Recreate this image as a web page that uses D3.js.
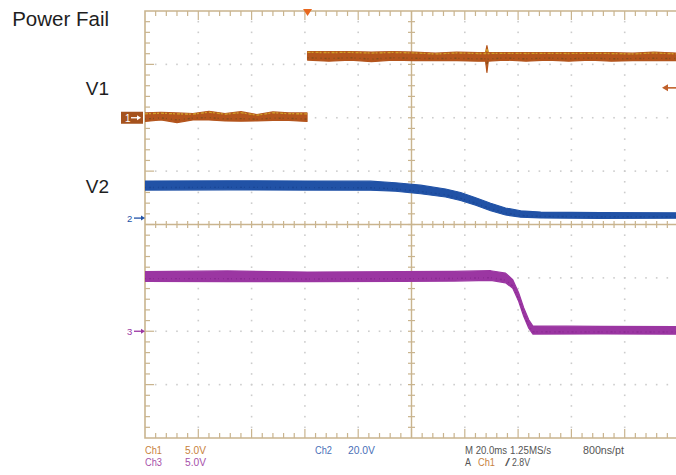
<!DOCTYPE html>
<html>
<head>
<meta charset="utf-8">
<script src="https://cdn.jsdelivr.net/npm/d3@7"></script>
<style>
  html, body { margin: 0; padding: 0; background: #ffffff; }
  svg { display: block; }
</style>
</head>
<body>
<script>
// ---- Acquisition settings -------------------------------------------------
const timeDomain = [-61, 139];            // ms across 10 divisions (20 ms/div), trigger at 0
const voltsPerDiv = { ch1: 5, ch2: 20, ch3: 5 };
const groundDiv   = { ch1: 2.0, ch2: 0.12, ch3: -2.0 };   // ground marker, divisions from centre
const triggerLevel = 2.8;                 // V on Ch1

// ---- Ch1: power-fail signal (V) --------------------------------------------
const ch1Time   = [-61, -55, -49, -43, -37, -31, -25, -19, -13, -7, -0.2,
                   0, 8, 16, 24, 32, 40, 48, 56, 64, 66.8, 67.3, 67.8, 74, 82, 90, 98, 106, 114, 122, 130, 139];
const ch1Level  = [0.05, 0.15, 0.0, 0.1, 0.2, 0.05, 0.12, 0.0, 0.15, 0.1, 0.05,
                   5.8, 5.75, 5.8, 5.7, 5.8, 5.75, 5.7, 5.75, 5.7, 5.7, 5.5, 5.7, 5.75, 5.7, 5.75, 5.7, 5.75, 5.7, 5.7, 5.75, 5.7];
const ch1Spread = [0.4, 0.35, 0.45, 0.3, 0.4, 0.35, 0.45, 0.3, 0.4, 0.35, 0.4,
                   0.4, 0.45, 0.4, 0.45, 0.4, 0.4, 0.35, 0.4, 0.4, 0.4, 1.25, 0.4, 0.35, 0.4, 0.35, 0.4, 0.35, 0.4, 0.35, 0.4, 0.35];

// ---- Ch2: V1 rail (V) ------------------------------------------------------
const ch2Time   = [-61, -30, 0, 23.6, 33, 42.4, 51.8, 57.4, 63.1, 68.7, 74.3, 80, 87.5, 110, 139];
const ch2Level  = [12.2, 12.3, 12.2, 12.15, 11.65, 10.72, 9.4, 8.09, 6.22, 4.16, 2.47, 1.54, 1.16, 0.97, 0.97];
const ch2Spread = [1.7, 1.7, 1.7, 1.7, 1.6, 1.6, 1.5, 1.5, 1.4, 1.4, 1.3, 1.2, 1.1, 1.1, 1.0];

// ---- Ch3: V2 rail (V) ------------------------------------------------------
const ch3Time   = [-61, -30, 0, 34.9, 55, 68.7, 74.3, 77, 79.2, 81.1, 83, 84.5, 110, 139];
const ch3Level  = [5.13, 5.15, 5.1, 5.13, 5.15, 5.22, 4.99, 4.43, 3.21, 1.80, 0.68, 0.12, 0.1, 0.08];
const ch3Spread = [0.45, 0.5, 0.45, 0.45, 0.45, 0.45, 0.45, 0.4, 0.4, 0.4, 0.4, 0.38, 0.35, 0.35];

// ---- Labels ----------------------------------------------------------------
const sideLabels = ["Power Fail", "V1", "V2"];
const readoutRow1 = ["Ch1", "5.0V", "Ch2", "20.0V", "M 20.0ms", "1.25MS/s", "800ns/pt"];
const readoutRow2 = ["Ch3", "5.0V", "A", "Ch1", "/", "2.8V"];

// ---- Layout ----------------------------------------------------------------
const W = 676, H = 475;
const plot = { left: 145, top: 11, right: 678, bottom: 438 };
const colors = {
  grid: "#c9b48e", dot: "#cccccc",
  ch1: "#b4551d", ch1Hi: "#d8b22a", ch1Lo: "#5f4a1a",
  ch2: "#2152a6", ch2Lo: "#163f8a", ch3: "#9b36a2", ch3Lo: "#7f2388",
  txt1: "#c8823c", txt2: "#4a6fb8", txt3: "#a650aa", txtM: "#555555"
};

const svg = d3.select("body").append("svg").attr("width", W).attr("height", H);

const x = d3.scaleLinear().domain(timeDomain).range([plot.left, plot.right]);
const yDiv = d3.scaleLinear().domain([-4, 4]).range([plot.bottom, plot.top]);
const chY = ch => v => yDiv(groundDiv[ch] + v / voltsPerDiv[ch]);

const divX = (plot.right - plot.left) / 10;
const divY = (plot.bottom - plot.top) / 8;
const cx = plot.left + 5 * divX, cy = plot.top + 4 * divY;

// ---- Graticule -------------------------------------------------------------
const g = svg.append("g");
const clipId = "plotclip";
svg.append("clipPath").attr("id", clipId).append("rect")
  .attr("x", plot.left).attr("y", plot.top - 2)
  .attr("width", plot.right - plot.left).attr("height", plot.bottom - plot.top + 4);

// dotted division lines
const dots = [];
for (let i = 1; i < 10; i++) {
  if (i === 5) continue;
  for (let k = 1; k < 40; k++) dots.push([plot.left + i * divX, plot.top + k * divY / 5]);
}
for (let j = 1; j < 8; j++) {
  if (j === 4) continue;
  for (let k = 1; k < 50; k++) dots.push([plot.left + k * divX / 5, plot.top + j * divY]);
}
g.selectAll("rect.dot").data(dots).join("rect").attr("class", "dot")
  .attr("x", d => d[0] - 0.8).attr("y", d => d[1] - 0.8)
  .attr("width", 1.6).attr("height", 1.6).attr("fill", colors.dot);

// border (left, top, bottom; the right edge falls outside the frame)
g.append("path")
  .attr("d", `M${plot.right},${plot.top} H${plot.left} V${plot.bottom} H${plot.right}`)
  .attr("fill", "none").attr("stroke", colors.grid).attr("stroke-width", 1.6);

// centre cross
g.append("line").attr("x1", plot.left).attr("x2", plot.right).attr("y1", cy).attr("y2", cy)
  .attr("stroke", colors.grid).attr("stroke-width", 1.4);
g.append("line").attr("x1", cx).attr("x2", cx).attr("y1", plot.top).attr("y2", plot.bottom)
  .attr("stroke", colors.grid).attr("stroke-width", 1.4);

const ticks = [];
for (let k = 1; k < 50; k++) {
  const px = plot.left + k * divX / 5, major = k % 5 === 0;
  const len = major ? 9 : 5;
  ticks.push([px, plot.top, px, plot.top + len]);
  ticks.push([px, plot.bottom, px, plot.bottom - len]);
  ticks.push([px, cy - 3.5, px, cy + 3.5]);
}
for (let k = 1; k < 40; k++) {
  const py = plot.top + k * divY / 5, major = k % 5 === 0;
  const len = major ? 9 : 5;
  ticks.push([plot.left, py, plot.left + len, py]);
  ticks.push([cx - 3.5, py, cx + 3.5, py]);
}
g.selectAll("line.tick").data(ticks).join("line").attr("class", "tick")
  .attr("x1", d => d[0]).attr("y1", d => d[1]).attr("x2", d => d[2]).attr("y2", d => d[3])
  .attr("stroke", colors.grid).attr("stroke-width", 1.2);

// ---- Traces ----------------------------------------------------------------
// A trace is drawn as the band of its sampled envelope; a step (two samples
// closer than 0.5 ms with a large jump) starts a new segment.
function trace(ch, time, level, spread, color, shade) {
  const y = chY(ch);
  const pts = time.map((t, i) => ({ t, v: level[i], s: spread[i] }));
  const segs = [[pts[0]]];
  for (let i = 1; i < pts.length; i++) {
    const p = pts[i], q = pts[i - 1];
    if (p.t - q.t < 0.5 && Math.abs(p.v - q.v) > voltsPerDiv[ch] / 2) segs.push([]);
    segs[segs.length - 1].push(p);
  }
  const area = d3.area().x(d => x(d.t)).y0(d => y(d.v - d.s)).y1(d => y(d.v + d.s));
  const grp = svg.append("g").attr("clip-path", `url(#${clipId})`);
  grp.selectAll("path.band").data(segs).join("path").attr("class", "band").attr("d", area)
    .attr("fill", color).attr("stroke", color).attr("stroke-width", 1.2)
    .attr("stroke-linejoin", "round");
  // speckled persistence along the lower part of the band
  const mid = d3.line().x(d => x(d.t)).y(d => y(d.v - 0.45 * d.s));
  grp.selectAll("path.speck").data(segs).join("path").attr("class", "speck").attr("d", mid)
    .attr("fill", "none").attr("stroke", shade).attr("stroke-width", 1.4)
    .attr("stroke-dasharray", "1 3 2 2 1 4").attr("opacity", 0.55);
  return { grp, segs, y };
}

const t3 = trace("ch3", ch3Time, ch3Level, ch3Spread, colors.ch3, colors.ch3Lo);
const t2 = trace("ch2", ch2Time, ch2Level, ch2Spread, colors.ch2, colors.ch2Lo);
const t1 = trace("ch1", ch1Time, ch1Level, ch1Spread, colors.ch1, colors.ch1Lo);

// Ch1 yellow highlights along the upper edge
const edge = off => d3.line().x(d => x(d.t)).y(d => t1.y(d.v + off * d.s));
t1.grp.selectAll("path.hi").data(t1.segs).join("path").attr("class", "hi").attr("d", edge(0.8))
  .attr("fill", "none").attr("stroke", colors.ch1Hi).attr("stroke-width", 1.3)
  .attr("stroke-dasharray", "3 1 2 2").attr("opacity", 0.8);

// ---- Channel markers -------------------------------------------------------
const g1 = chY("ch1")(0), g2 = chY("ch2")(0), g3 = chY("ch3")(0);

svg.append("rect").attr("x", 121).attr("y", g1 - 6).attr("width", 22).attr("height", 12)
  .attr("fill", "#a5521d");
svg.append("text").attr("x", 125).attr("y", g1 + 4).text("1")
  .attr("font-family", "Liberation Sans, Arial, sans-serif").attr("font-size", 10).attr("fill", "#fff");

function arrow(x0, x1, yy, color) {
  svg.append("line").attr("x1", x0).attr("x2", x1 - 3).attr("y1", yy).attr("y2", yy)
    .attr("stroke", color).attr("stroke-width", 1.3);
  svg.append("path").attr("d", `M${x1},${yy} L${x1 - 4},${yy - 2.5} L${x1 - 4},${yy + 2.5} Z`).attr("fill", color);
}
arrow(131, 141, g1, "#ffffff");

svg.append("text").attr("x", 127).attr("y", g2 + 3.5).text("2")
  .attr("font-family", "Liberation Sans, Arial, sans-serif").attr("font-size", 9.5).attr("fill", colors.ch2);
arrow(134, 145, g2, colors.ch2);
svg.append("text").attr("x", 127).attr("y", g3 + 3.5).text("3")
  .attr("font-family", "Liberation Sans, Arial, sans-serif").attr("font-size", 9.5).attr("fill", colors.ch3);
arrow(134, 145, g3, colors.ch3);

// trigger position (top) and trigger level (right)
const tx = x(0);
svg.append("path").attr("d", `M${tx - 4.5},${plot.top - 2} L${tx + 4.5},${plot.top - 2} L${tx},${plot.top + 5} Z`)
  .attr("fill", "#e8681e");
const ty = chY("ch1")(triggerLevel);
svg.append("line").attr("x1", 667).attr("x2", 676).attr("y1", ty).attr("y2", ty)
  .attr("stroke", "#c0602a").attr("stroke-width", 1.6);
svg.append("path").attr("d", `M662,${ty} L668,${ty - 3.5} L668,${ty + 3.5} Z`).attr("fill", "#c0602a");

// ---- Side labels -----------------------------------------------------------
const sideY = [26, 95, 193];
svg.selectAll("text.side").data(sideLabels).join("text").attr("class", "side")
  .attr("x", 109).attr("y", (d, i) => sideY[i]).attr("text-anchor", "end")
  .attr("font-family", "Liberation Sans, Arial, Helvetica, sans-serif")
  .attr("font-size", (d, i) => i === 0 ? 20.5 : 19).attr("fill", "#1e1e1e").text(d => d);

// ---- Readout ---------------------------------------------------------------
const fontR = "Liberation Sans, Arial, sans-serif";
const row1X = [145, 185, 315, 348, 465, 510, 583];
const row1Wd = [17, 21, 17, 27, 42, 41, 41];
const row1C = [colors.txt1, colors.txt1, colors.txt2, colors.txt2, colors.txtM, colors.txtM, colors.txtM];
const row2X = [145, 185, 465, 478, 505, 512];
const row2Wd = [17, 21, 6, 17, 5, 18];
const row2C = [colors.txt3, colors.txt3, colors.txtM, colors.txt1, colors.txtM, colors.txtM];
svg.selectAll("text.r1").data(readoutRow1).join("text").attr("class", "r1")
  .attr("x", (d, i) => row1X[i]).attr("y", 454).attr("font-family", fontR).attr("font-size", 10)
  .attr("textLength", (d, i) => row1Wd[i]).attr("lengthAdjust", "spacingAndGlyphs")
  .attr("fill", (d, i) => row1C[i]).text(d => d);
svg.selectAll("text.r2").data(readoutRow2).join("text").attr("class", "r2")
  .attr("x", (d, i) => row2X[i]).attr("y", 466).attr("font-family", fontR).attr("font-size", 10)
  .attr("textLength", (d, i) => row2Wd[i]).attr("lengthAdjust", "spacingAndGlyphs")
  .attr("fill", (d, i) => row2C[i]).text(d => d);
</script>
</body>
</html>
